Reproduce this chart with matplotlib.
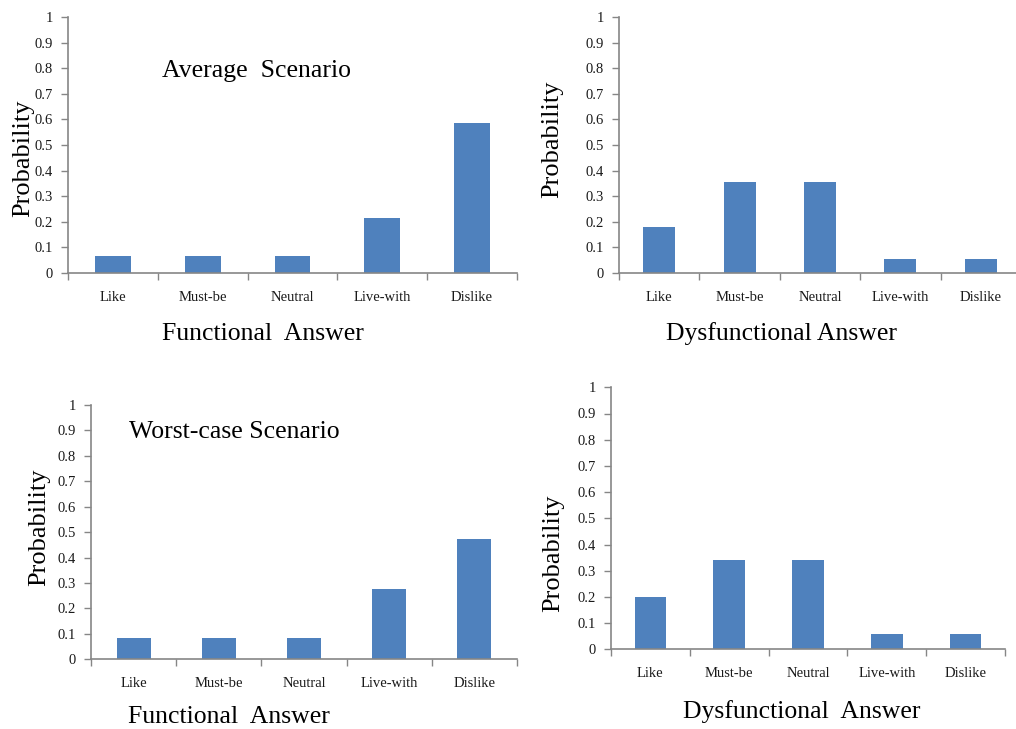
import matplotlib
matplotlib.use("Agg")
import matplotlib.pyplot as plt
import numpy as np

plt.rcParams['font.family'] = ['Liberation Serif', 'DejaVu Serif']

categories = ["Like", "Must-be", "Neutral", "Live-with", "Dislike"]
avg_functional = [0.065, 0.065, 0.065, 0.214, 0.586]
avg_dysfunctional = [0.179, 0.357, 0.357, 0.054, 0.054]
worst_functional = [0.083, 0.083, 0.083, 0.278, 0.472]
worst_dysfunctional = [0.20, 0.34, 0.34, 0.06, 0.06]
yticks = [0, 0.1, 0.2, 0.3, 0.4, 0.5, 0.6, 0.7, 0.8, 0.9, 1]
ytick_labels = ["0", "0.1", "0.2", "0.3", "0.4", "0.5", "0.6", "0.7", "0.8", "0.9", "1"]

W, H = 1016, 729
fig = plt.figure(figsize=(W / 100, H / 100), dpi=100)

BAR = '#4F81BD'
AX = '#868686'


def px_axes(l, t, r, b):
    return fig.add_axes([l / W, 1 - b / H, (r - l) / W, (b - t) / H])


def style(ax, vals):
    n = len(categories)
    x = np.arange(n) + 0.5
    ax.bar(x, vals, width=0.4, color=BAR, zorder=2)
    ax.set_xlim(0, n)
    ax.set_ylim(0, 1)
    ax.set_yticks(yticks)
    ax.set_yticklabels(ytick_labels, fontsize=10.5, color='#1a1a1a')
    ax.set_xticks(np.arange(n + 1))
    ax.set_xticklabels([])
    ax.set_xticks(x, minor=True)
    ax.set_xticklabels(categories, minor=True, fontsize=10.5, color='#1a1a1a')
    ax.tick_params(axis='x', which='major', direction='out', length=5, color=AX, width=1)
    ax.tick_params(axis='x', which='minor', length=0, pad=13)
    ax.tick_params(axis='y', direction='out', length=5, color=AX, width=1, pad=6)
    for s in ['top', 'right']:
        ax.spines[s].set_visible(False)
    for s in ['left', 'bottom']:
        ax.spines[s].set_color(AX)
        ax.spines[s].set_linewidth(1.2)
    ax.patch.set_alpha(0)


def ftext(x, y, s, **kw):
    fig.text(x / W, 1 - y / H, s, **kw)


ax1 = px_axes(68, 17.3, 517, 272.7)
style(ax1, avg_functional)
ax2 = px_axes(619, 17.3, 1021, 272.7)
style(ax2, avg_dysfunctional)
ax3 = px_axes(91, 405, 517, 659.3)
style(ax3, worst_functional)
ax4 = px_axes(611, 387.3, 1005, 649.3)
style(ax4, worst_dysfunctional)

big = 18.5

# scenario titles
ftext(162, 77, "Average  Scenario", fontsize=big, va='baseline', ha='left')
ftext(129, 438, "Worst-case Scenario", fontsize=big, va='baseline', ha='left')

# x axis titles
ftext(263, 340, "Functional  Answer", fontsize=big, va='baseline', ha='center')
ftext(782, 340, "Dysfunctional Answer", fontsize=big, va='baseline', ha='center')
ftext(229, 723, "Functional  Answer", fontsize=big, va='baseline', ha='center')
ftext(802, 718, "Dysfunctional  Answer", fontsize=big, va='baseline', ha='center')

# y axis titles
yl = 19
ftext(23, 158, "Probability", fontsize=yl, rotation=90, va='center', ha='center')
ftext(552, 139, "Probability", fontsize=yl, rotation=90, va='center', ha='center')
ftext(39, 527, "Probability", fontsize=yl, rotation=90, va='center', ha='center')
ftext(553, 553, "Probability", fontsize=yl, rotation=90, va='center', ha='center')

fig.savefig("out.png", dpi=100)
